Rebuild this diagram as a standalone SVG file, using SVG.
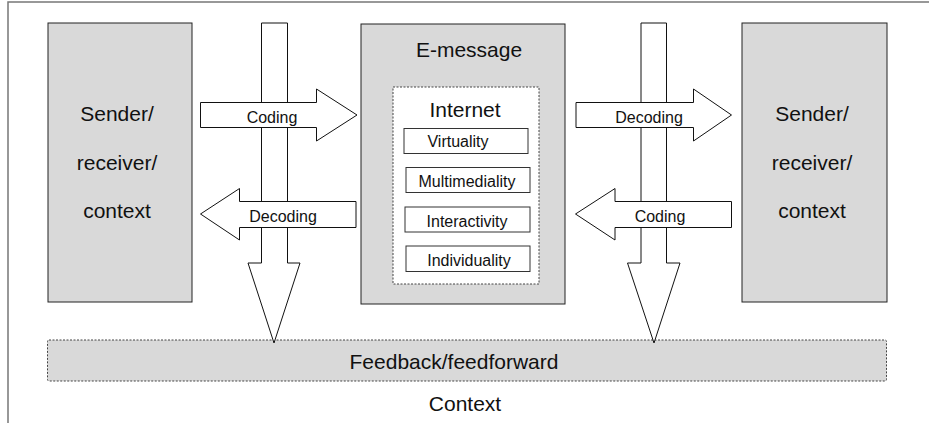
<svg xmlns="http://www.w3.org/2000/svg" width="929" height="423" viewBox="0 0 929 423">
  <style>
    text { font-family: "Liberation Sans", Arial, sans-serif; fill: #111; text-anchor: middle; }
    .big { font-size: 21px; }
    .small { font-size: 16px; }
    .box { fill: #d9d9d9; stroke: #222; stroke-width: 1; }
    .item { fill: #fff; stroke: #333; stroke-width: 1; }
    .dash { stroke: #444; stroke-width: 1; stroke-dasharray: 2 1.5; }
    .arrow { fill: #fff; stroke: #111; stroke-width: 1; stroke-linejoin: miter; }
    .frame { fill: none; stroke: #777; stroke-width: 1.5; }
  </style>

  <rect width="929" height="423" fill="#fff"/>

  <!-- outer frame: top and left edges -->
  <path class="frame" d="M 8 423 V 2 H 929"/>

  <!-- context band -->
  <g id="feedback">
    <rect class="dash" x="47.5" y="340" width="839" height="41" rx="1.5" fill="#d9d9d9"/>
    <text class="big" x="454" y="369">Feedback/feedforward</text>
  </g>
  <g id="context-label">
    <text class="big" x="465" y="411">Context</text>
  </g>

  <!-- left party -->
  <g id="sender-left">
    <rect class="box" x="48" y="23" width="144" height="279"/>
    <text class="big" x="117" y="121">Sender/</text>
    <text class="big" x="117" y="170">receiver/</text>
    <text class="big" x="117" y="218">context</text>
  </g>

  <!-- message -->
  <g id="emessage">
    <rect class="box" x="361" y="24" width="204" height="280"/>
    <text class="big" x="469" y="57">E-message</text>
    <rect class="dash" x="393" y="87" width="146" height="197" fill="#fff"/>
    <text class="big" x="465" y="117">Internet</text>
    <g id="virtuality">
      <rect class="item" x="404" y="128.5" width="124" height="25"/>
      <text class="small" x="458" y="147">Virtuality</text>
    </g>
    <g id="multimediality">
      <rect class="item" x="406" y="167.5" width="124" height="25"/>
      <text class="small" x="467" y="187">Multimediality</text>
    </g>
    <g id="interactivity">
      <rect class="item" x="405" y="207" width="125" height="25"/>
      <text class="small" x="467" y="226.5">Interactivity</text>
    </g>
    <g id="individuality">
      <rect class="item" x="406" y="246" width="124" height="25.5"/>
      <text class="small" x="469" y="266">Individuality</text>
    </g>
  </g>

  <!-- right party -->
  <g id="sender-right">
    <rect class="box" x="742" y="23" width="145" height="279"/>
    <text class="big" x="812" y="121">Sender/</text>
    <text class="big" x="812" y="170">receiver/</text>
    <text class="big" x="812" y="218">context</text>
  </g>

  <!-- block arrows -->
  <g id="connectors">
    <polygon class="arrow" points="261.5,23 287.5,23 287.5,263 300,263 274,343 248,263 261.5,263"/>
    <polygon class="arrow" points="641,23 666.5,23 666.5,263 680,263 654,343 627.5,263 641,263"/>

    <g id="coding-left">
      <polygon class="arrow" points="200.5,102.5 316.5,102.5 316.5,89 357,115 316.5,141 316.5,127.5 200.5,127.5"/>
      <text class="small" x="272" y="123">Coding</text>
    </g>
    <g id="decoding-left">
      <polygon class="arrow" points="356,201.5 239.5,201.5 239.5,188.5 200.5,214 239.5,240 239.5,227.5 356,227.5"/>
      <text class="small" x="283" y="221.5">Decoding</text>
    </g>
    <g id="decoding-right">
      <polygon class="arrow" points="576,102.5 693.5,102.5 693.5,89 731.5,115 693.5,141 693.5,127.5 576,127.5"/>
      <text class="small" x="649" y="123">Decoding</text>
    </g>
    <g id="coding-right">
      <polygon class="arrow" points="731.5,201.5 615,201.5 615,188.5 575.5,214 615,240 615,227.5 731.5,227.5"/>
      <text class="small" x="660" y="221.5">Coding</text>
    </g>
  </g>
</svg>
